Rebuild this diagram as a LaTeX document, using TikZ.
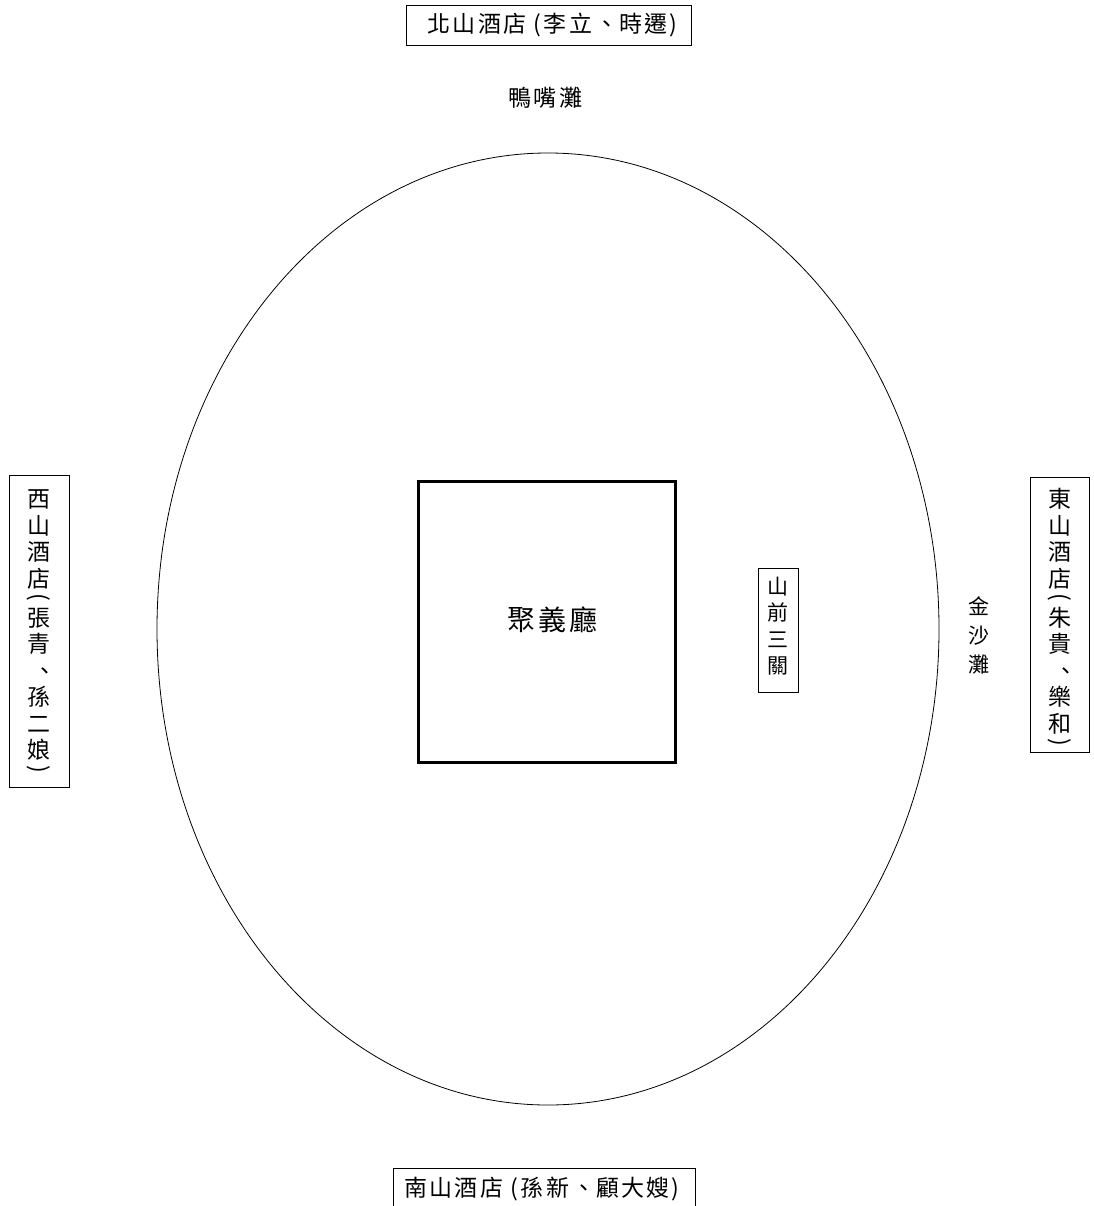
\documentclass[tikz,border=0pt]{standalone}
\usepackage{fontspec}
\usepackage{graphicx}
\usetikzlibrary{shapes.geometric}
\newfontfamily\cjk{Noto Sans CJK TC}
\newfontfamily\cjkls[LetterSpace=10]{Noto Sans CJK TC}
\newcommand\vlparen{\raisebox{2pt}{\rotatebox[origin=c]{-90}{(}}}
\newcommand\vrparen{\raisebox{2pt}{\rotatebox[origin=c]{-90}{)}}}
\newcommand\vcomma{\hspace*{0.5em}、}
\begin{document}
\begin{tikzpicture}[x=1pt,y=-1pt,
  frame/.style={draw, line width=0.8pt, inner sep=0pt},
  htxt/.style={inner sep=0pt, font=\cjkls\fontsize{23}{27}\selectfont},
  vtxt/.style={align=center, inner sep=0pt, font=\cjk\fontsize{23}{26.5}\selectfont}]
\clip (0,0) rectangle (1093,1206);
\fill[white] (0,0) rectangle (1093,1206);
% island
\node[ellipse, draw, line width=0.8pt, minimum width=782pt, minimum height=952pt, inner sep=0pt] (island) at (548,629) {};
% hall
\node[draw, line width=3pt, minimum width=257pt, minimum height=281pt, inner sep=0pt] (hall) at (546.5,621.5) {};
\node[inner sep=0pt, font=\cjkls\fontsize{28}{32}\selectfont] (hallname) at (552.5,620) {聚義廳};
% north
\node[frame, minimum width=285pt, minimum height=40pt] (north) at (549.2,25) {};
\node[htxt] (northtxt) at (552.5,25) {北山酒店 (李立\hspace{3pt}、\hspace{1pt}時遷)};
\node[inner sep=0pt, font=\cjkls\fontsize{23}{27}\selectfont] (yazui) at (545.5,97.5) {鴨嘴灘};
% south
\node[frame, minimum width=302pt, minimum height=60pt, anchor=north] (south) at (544,1168) {};
\node[htxt] (southtxt) at (542,1189) {南山酒店 (孫新\hspace{3pt}、\hspace{1pt}顧大嫂)};
% west
\node[frame, minimum width=60pt, minimum height=312pt] (west) at (39,631.5) {};
\node[vtxt] (westtxt) at (39,634)
  {西\\山\\酒\\店\\[-7pt]\vlparen\\[-7pt]張\\青\\\vcomma\\孫\\二\\娘\\[-7pt]\vrparen};
% east
\node[frame, minimum width=59pt, minimum height=275pt] (east) at (1059.5,614.5) {};
\node[vtxt] (easttxt) at (1060,620)
  {東\\山\\酒\\店\\[-7pt]\vlparen\\[-7pt]朱\\貴\\\vcomma\\樂\\和\\[-7pt]\vrparen};
% front pass
\node[frame, minimum width=40pt, minimum height=124pt] (pass) at (778,630) {};
\node[vtxt, font=\cjk\fontsize{21}{26.3}\selectfont] (passtxt) at (777.5,626) {山\\前\\三\\關};
% golden sand
\node[vtxt, font=\cjk\fontsize{21}{29}\selectfont] (jinsha) at (979,635) {金\\沙\\灘};
\end{tikzpicture}
\end{document}
